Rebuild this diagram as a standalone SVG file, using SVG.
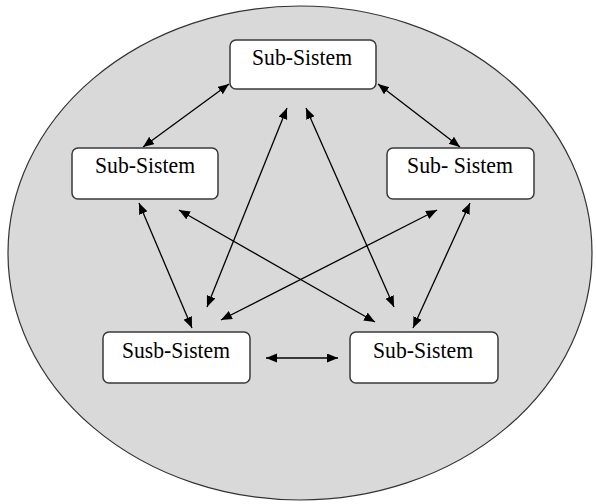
<svg xmlns="http://www.w3.org/2000/svg" width="596" height="504" viewBox="0 0 596 504">
<style>
.box{fill:#fff;stroke:#3a3a3a;stroke-width:1.5}
.lbl{font-family:"Liberation Serif","Times New Roman",serif;font-size:24px;fill:#000;text-anchor:middle}
.con{stroke:#000;stroke-width:1.3;fill:none;marker-start:url(#ah);marker-end:url(#ah)}
</style>
<defs>
<marker id="ah" markerUnits="userSpaceOnUse" markerWidth="12" markerHeight="10" refX="11" refY="4.5" orient="auto-start-reverse">
<path d="M0,0 L11,4.5 L0,9 z" fill="#000"/>
</marker>
</defs>
<rect width="596" height="504" fill="#fff"/>
<ellipse cx="300" cy="253" rx="292" ry="247" fill="#d9d9d9" stroke="#333" stroke-width="1.2"/>
<g id="connectors">
<line class="con" x1="143" y1="147" x2="229" y2="84"/>
<line class="con" x1="378" y1="84" x2="460" y2="147"/>
<line class="con" x1="139" y1="203" x2="192" y2="328"/>
<line class="con" x1="470" y1="203" x2="413" y2="328"/>
<line class="con" x1="266" y1="358" x2="338" y2="358"/>
<line class="con" x1="287" y1="108" x2="207" y2="307"/>
<line class="con" x1="306" y1="108" x2="394" y2="307"/>
<line class="con" x1="179" y1="210" x2="375" y2="322"/>
<line class="con" x1="437" y1="210" x2="221" y2="320"/>
</g>
<g id="node-top">
<rect class="box" x="230" y="40" width="146" height="49" rx="6"/>
<text class="lbl" x="302" y="65" textLength="100" lengthAdjust="spacingAndGlyphs">Sub-Sistem</text>
</g>
<g id="node-left">
<rect class="box" x="72" y="148" width="146" height="51" rx="6"/>
<text class="lbl" x="145" y="173" textLength="100" lengthAdjust="spacingAndGlyphs">Sub-Sistem</text>
</g>
<g id="node-right">
<rect class="box" x="387" y="148" width="147" height="51" rx="6"/>
<text class="lbl" x="460" y="173" textLength="106" lengthAdjust="spacingAndGlyphs">Sub- Sistem</text>
</g>
<g id="node-bottom-left">
<rect class="box" x="103" y="332" width="147" height="51" rx="6"/>
<text class="lbl" x="176" y="358" textLength="108" lengthAdjust="spacingAndGlyphs">Susb-Sistem</text>
</g>
<g id="node-bottom-right">
<rect class="box" x="350" y="332" width="148" height="51" rx="6"/>
<text class="lbl" x="423" y="358" textLength="100" lengthAdjust="spacingAndGlyphs">Sub-Sistem</text>
</g>
</svg>
